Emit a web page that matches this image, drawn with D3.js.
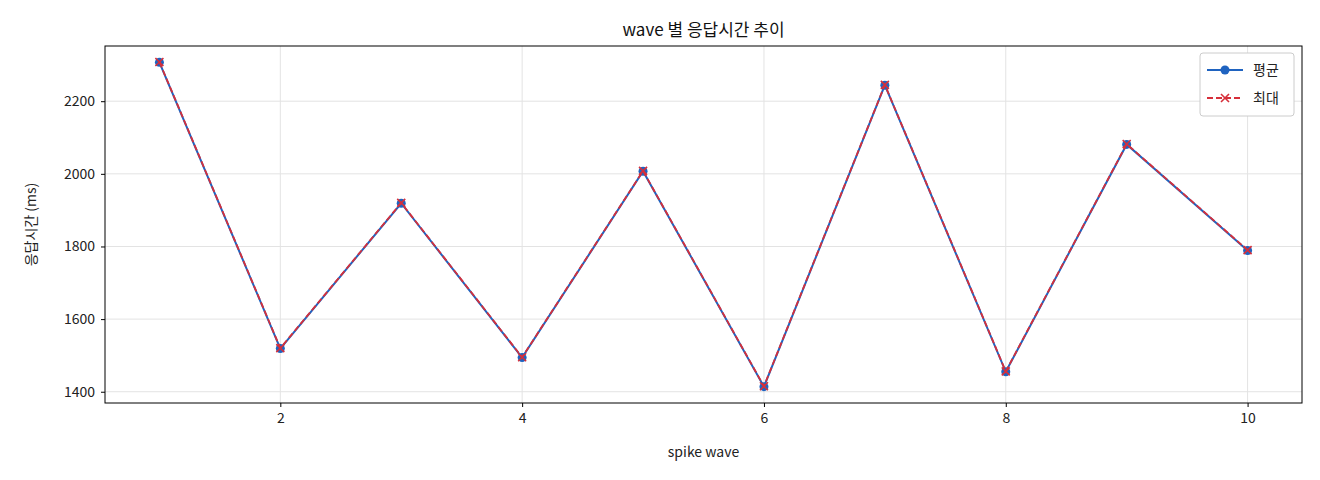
<!DOCTYPE html>
<html><head><meta charset="utf-8">
<script src="https://cdn.jsdelivr.net/npm/d3@7"></script>
<style>body{margin:0;background:#fff;font-family:"Noto Sans CJK KR","Noto Sans",sans-serif;}</style>
</head><body><svg id="c" width="1320" height="480"></svg>
<script>
const waves = [1,2,3,4,5,6,7,8,9,10];
const avgMs = [2307,1519,1919,1494,2007,1414,2244,1455,2081,1789];
const maxMs = [2308,1520,1920,1495,2008,1415,2245,1456,2082,1790];
const xTicks = [2,4,6,8,10];
const yTicks = [1400,1600,1800,2000,2200];
const title = "wave 별 응답시간 추이";
const xLabel = "spike wave";
const yLabel = "응답시간 (ms)";
const legendNames = ["평균","최대"];

const svg = d3.select("#c");
const L=105,R=1302,T=46,B=403;
const x = d3.scaleLinear().domain([0.55,10.45]).range([L,R]);
const y = d3.scaleLinear().domain([1369,2352]).range([B,T]);
const g = svg.append("g");
// grid
g.selectAll(".gx").data(xTicks).enter().append("line").attr("x1",d=>x(d)).attr("x2",d=>x(d)).attr("y1",T).attr("y2",B).attr("stroke","#e3e3e3");
g.selectAll(".gy").data(yTicks).enter().append("line").attr("y1",d=>y(d)).attr("y2",d=>y(d)).attr("x1",L).attr("x2",R).attr("stroke","#e3e3e3");
// axes
const xa = svg.append("g").attr("transform",`translate(0,${B})`).call(d3.axisBottom(x).tickValues(xTicks).tickSize(4).tickPadding(6));
const ya = svg.append("g").attr("transform",`translate(${L},0)`).call(d3.axisLeft(y).tickValues(yTicks).tickSize(4).tickPadding(6).tickFormat(d3.format("d")));
[xa,ya].forEach(a=>{a.select(".domain").remove();a.selectAll("text").attr("font-size",14).attr("fill","#222").attr("font-family","'Noto Sans CJK KR',sans-serif");});
svg.append("rect").attr("x",L).attr("y",T).attr("width",R-L).attr("height",B-T).attr("fill","none").attr("stroke","#000");
// lines
const line = d3.line().x((d,i)=>x(waves[i])).y(d=>y(d));
svg.append("path").attr("d",line(avgMs)).attr("fill","none").attr("stroke","#1f63c0").attr("stroke-width",2);
svg.selectAll(".ad").data(avgMs).enter().append("circle").attr("cx",(d,i)=>x(waves[i])).attr("cy",d=>y(d)).attr("r",4.5).attr("fill","#1f63c0");
svg.append("path").attr("d",line(maxMs)).attr("fill","none").attr("stroke","#d62f3a").attr("stroke-width",1.8).attr("stroke-dasharray","6,3");
const cross=(sel,cx,cy)=>{const s=4;sel.append("path").attr("d",`M${cx-s},${cy-s}L${cx+s},${cy+s}M${cx-s},${cy+s}L${cx+s},${cy-s}`).attr("stroke","#d62f3a").attr("stroke-width",1.6);};
maxMs.forEach((d,i)=>cross(svg,x(waves[i]),y(d)));
// title & labels
svg.append("text").attr("x",(L+R)/2).attr("y",36).attr("text-anchor","middle").attr("font-size",17).attr("fill","#111").text(title);
svg.append("text").attr("x",(L+R)/2).attr("y",457).attr("text-anchor","middle").attr("font-size",14).attr("fill","#222").text(xLabel);
svg.append("text").attr("transform",`translate(36,${(T+B)/2}) rotate(-90)`).attr("text-anchor","middle").attr("font-size",14).attr("fill","#222").text(yLabel);
// legend
const lg = svg.append("g");
lg.append("rect").attr("x",1200).attr("y",53).attr("width",94).attr("height",63).attr("rx",3).attr("fill","#fff").attr("stroke","#ccc");
lg.append("line").attr("x1",1207).attr("x2",1243).attr("y1",70).attr("y2",70).attr("stroke","#1f63c0").attr("stroke-width",2);
lg.append("circle").attr("cx",1225).attr("cy",70).attr("r",4.5).attr("fill","#1f63c0");
lg.append("line").attr("x1",1207).attr("x2",1243).attr("y1",98).attr("y2",98).attr("stroke","#d62f3a").attr("stroke-width",1.8).attr("stroke-dasharray","6,3");
cross(lg,1225,98);
lg.append("text").attr("x",1253).attr("y",75).attr("font-size",14).attr("fill","#222").text(legendNames[0]);
lg.append("text").attr("x",1253).attr("y",103).attr("font-size",14).attr("fill","#222").text(legendNames[1]);
</script></body></html>
